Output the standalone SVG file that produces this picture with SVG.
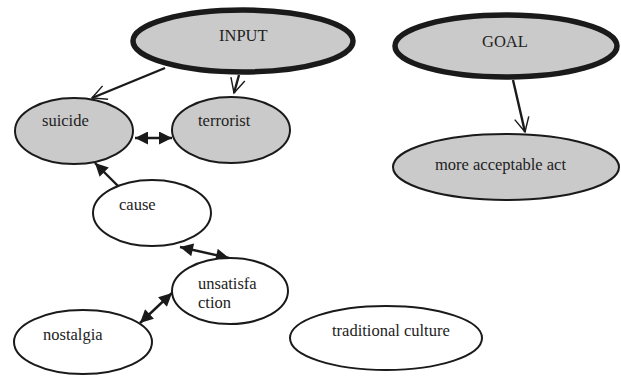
<svg xmlns="http://www.w3.org/2000/svg" width="621" height="376" viewBox="0 0 621 376">
<style>
.n{stroke:#1a1a1a;stroke-width:2}
.g{fill:#cacaca}
.w{fill:#fff}
.thick{stroke-width:5.5}
.t{font-size:16.5px;fill:#222}
.c{stroke:#1a1a1a;stroke-width:2.4;fill:none}
</style>
<defs>
<marker id="openL" viewBox="0 0 20 20" refX="18" refY="10" markerWidth="18" markerHeight="18" markerUnits="userSpaceOnUse" orient="auto">
<path d="M2,2 L18,10 L2,18" fill="none" stroke="#1a1a1a" stroke-width="1.6"/>
</marker>
<marker id="fill" viewBox="0 0 10 10" refX="10" refY="5" markerWidth="14" markerHeight="13" markerUnits="userSpaceOnUse" orient="auto-start-reverse">
<path d="M0,0 L10,5 L0,10 Z" fill="#1a1a1a"/>
</marker>
</defs>
<g id="connectors">
<line class="c" x1="165" y1="68" x2="92" y2="98" marker-end="url(#openL)"/>
<line class="c" x1="239" y1="75" x2="234" y2="93" marker-end="url(#openL)"/>
<line class="c" x1="513" y1="80" x2="525" y2="132" marker-end="url(#openL)"/>
<line class="c" x1="135" y1="138" x2="172" y2="138" marker-start="url(#fill)" marker-end="url(#fill)"/>
<line class="c" x1="120" y1="188" x2="95" y2="163" marker-end="url(#fill)"/>
<line class="c" x1="180" y1="247" x2="229" y2="258" marker-start="url(#fill)" marker-end="url(#fill)"/>
<line class="c" x1="172" y1="293" x2="140" y2="323" marker-start="url(#fill)" marker-end="url(#fill)"/>
</g>
<g font-family="Liberation Serif, Times New Roman, DejaVu Serif, serif">
<g id="input"><ellipse class="n g thick" cx="243" cy="41" rx="110" ry="31"/><text class="t" x="219" y="41">INPUT</text></g>
<g id="goal"><ellipse class="n g thick" cx="506" cy="46" rx="111" ry="31"/><text class="t" x="482" y="47">GOAL</text></g>
<g id="suicide"><ellipse class="n g" cx="74" cy="131" rx="59" ry="33"/><text class="t" x="42" y="126">suicide</text></g>
<g id="terrorist"><ellipse class="n g" cx="231" cy="130" rx="59" ry="33"/><text class="t" x="198" y="126">terrorist</text></g>
<g id="acceptable"><ellipse class="n g" cx="506" cy="167" rx="113" ry="33"/><text class="t" x="435" y="170">more acceptable act</text></g>
<g id="cause"><ellipse class="n w" cx="152" cy="213" rx="59" ry="33"/><text class="t" x="119" y="210">cause</text></g>
<g id="unsatisfaction"><ellipse class="n w" cx="230" cy="291" rx="58" ry="33"/><text class="t" x="198" y="289">unsatisfa</text><text class="t" x="198" y="308">ction</text></g>
<g id="nostalgia"><ellipse class="n w" cx="83" cy="342" rx="69" ry="32"/><text class="t" x="43" y="340">nostalgia</text></g>
<g id="traditional"><ellipse class="n w" cx="386" cy="338" rx="96" ry="32"/><text class="t" x="332" y="336">traditional culture</text></g>
</g>
</svg>
